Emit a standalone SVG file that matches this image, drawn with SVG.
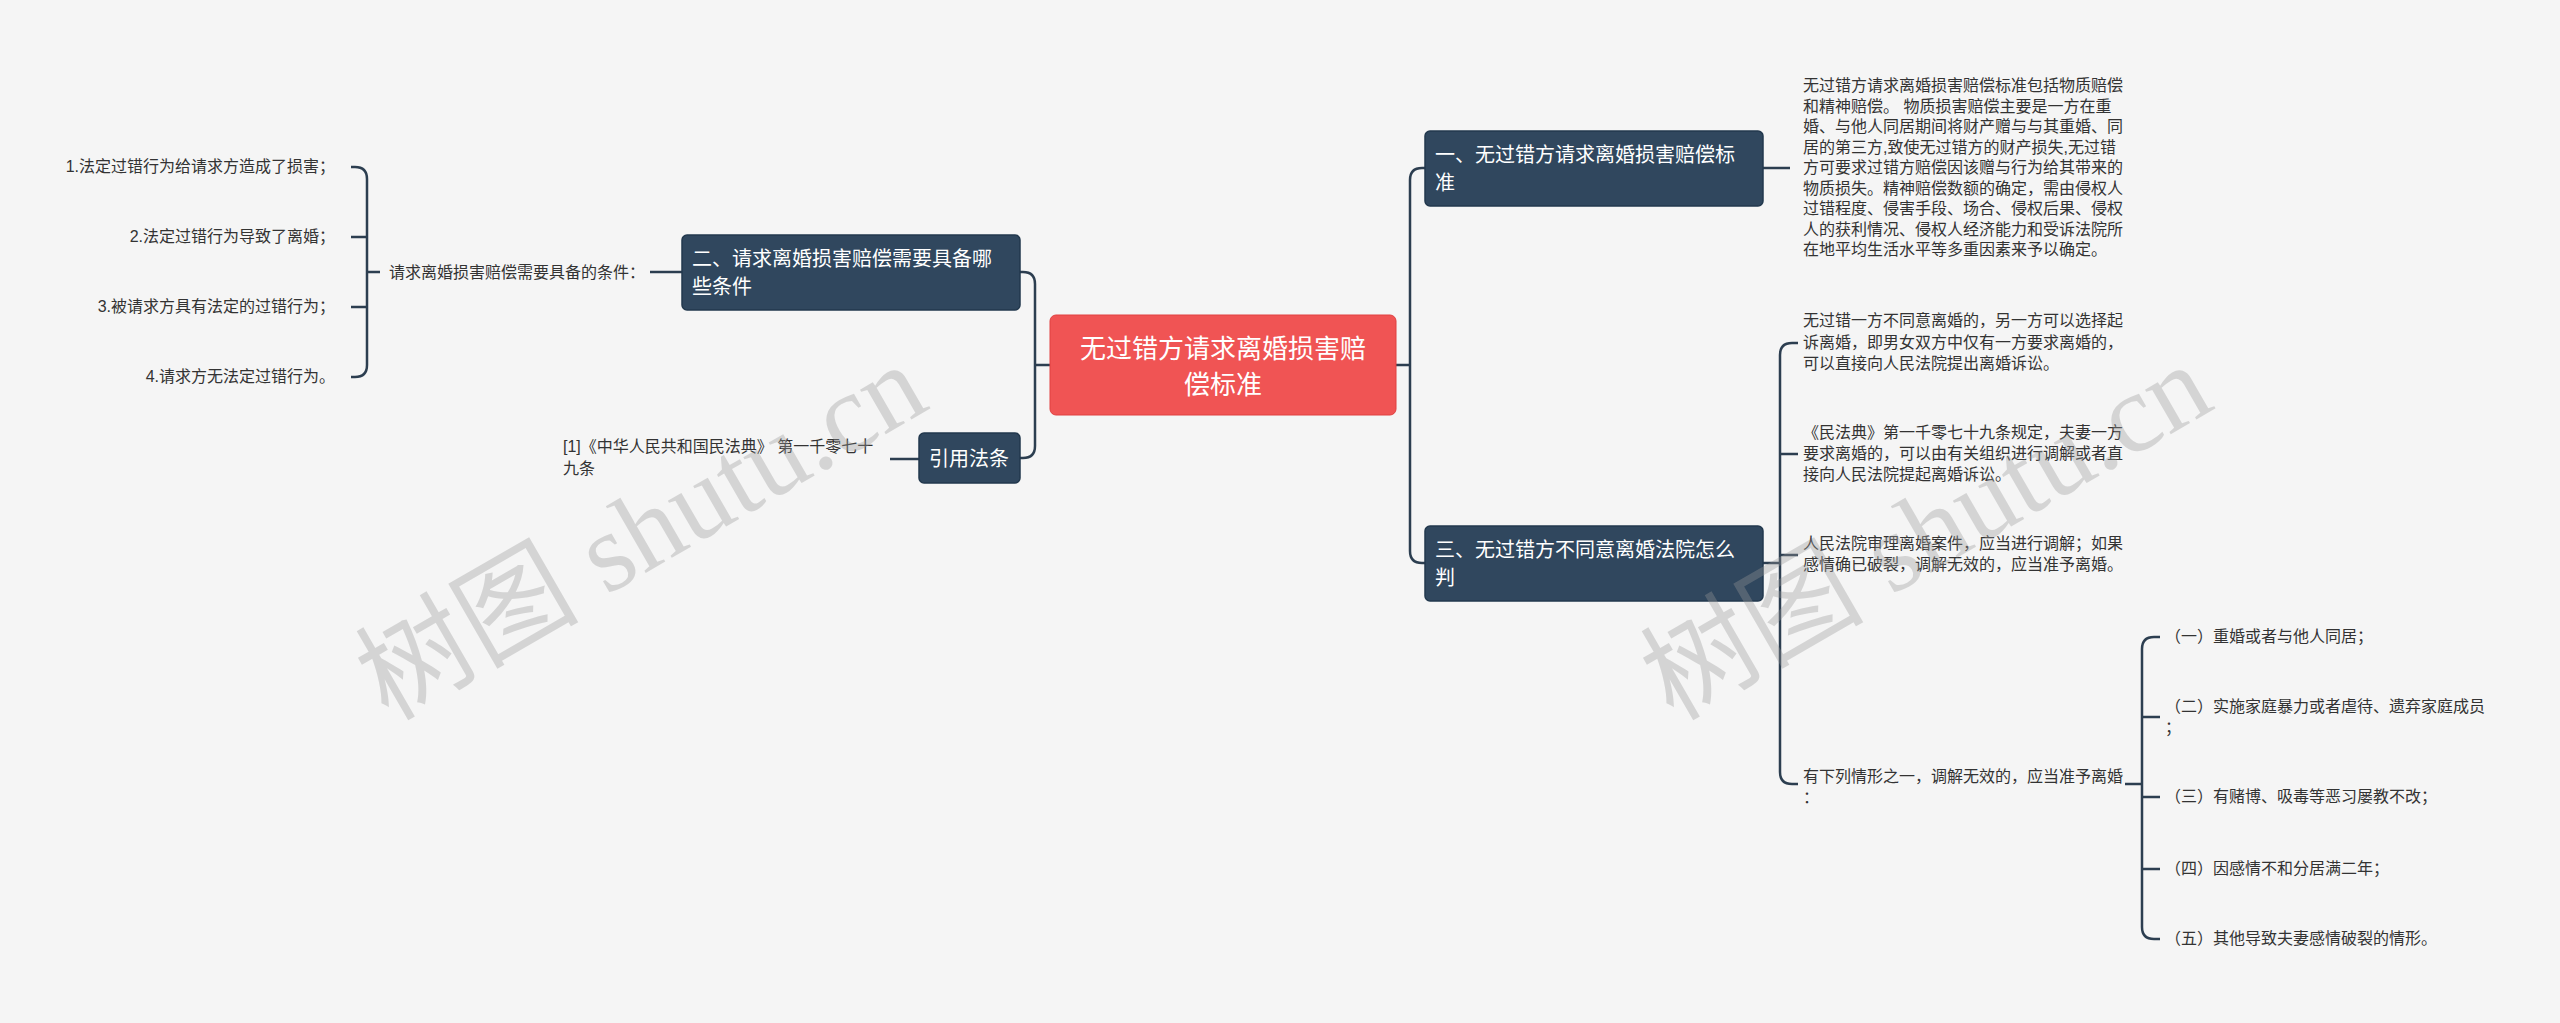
<svg xmlns="http://www.w3.org/2000/svg" width="2560" height="1023" viewBox="0 0 2560 1023">
<style>
text{font-family:"Liberation Sans","Noto Sans CJK SC",sans-serif;}
.t{font-size:16px;fill:#333;}
.n{font-size:20px;fill:#fff;}
.c{fill:none;stroke:#2c3e50;stroke-width:2.5;}
.box{fill:#30475e;stroke:#22384d;stroke-width:1.5;}
.wm{font-size:112px;fill:#999;opacity:0.35;font-family:"Liberation Serif","Noto Sans CJK SC",serif;}
</style>
<rect width="2560" height="1023" fill="#f5f5f5"/>
<g id="connectors">
<path class="c" d="M1396,365 H1410 M1410,365 V180 Q1410,168 1422,168 H1425 M1410,365 V551 Q1410,563 1422,563 H1425"/>
<path class="c" d="M1050,365 H1035 M1035,365 V284 Q1035,272 1023,272 H1020 M1035,365 V446 Q1035,458 1023,458 H1020"/>
<path class="c" d="M682,272 H650"/>
<path class="c" d="M919,459 H890"/>
<path class="c" d="M380,272 H367 M367,272 V179 Q367,167 355,167 H351 M367,272 V365 Q367,377 355,377 H351 M367,237 Q367,237 351,237 M367,307 H351"/>
<path class="c" d="M1763,168 H1790"/>
<path class="c" d="M1763,563 H1780 M1780,563 V355 Q1780,343 1792,343 H1798 M1780,454 H1798 M1780,555 H1798 M1780,563 V772 Q1780,784 1792,784 H1798"/>
<path class="c" d="M2125,784 H2142 M2142,784 V649 Q2142,637 2154,637 H2160 M2142,717 H2160 M2142,797 H2160 M2142,869 H2160 M2142,784 V927 Q2142,939 2154,939 H2160"/>
</g>
<g id="center">
<rect x="1050" y="315" width="346" height="100" rx="6" fill="#f05454" stroke="#e04040"/>
<text x="1223" y="358" font-size="26" fill="#fff" text-anchor="middle">无过错方请求离婚损害赔</text>
<text x="1223" y="394" font-size="26" fill="#fff" text-anchor="middle">偿标准</text>
</g>
<g id="node1">
<rect class="box" x="1425" y="131" width="338" height="75" rx="5"/>
<text class="n" x="1435" y="162">一、无过错方请求离婚损害赔偿标</text>
<text class="n" x="1435" y="190">准</text>
</g>
<g id="node3">
<rect class="box" x="1425" y="526" width="338" height="75" rx="5"/>
<text class="n" x="1435" y="557">三、无过错方不同意离婚法院怎么</text>
<text class="n" x="1435" y="585">判</text>
</g>
<g id="node2">
<rect class="box" x="682" y="235" width="338" height="75" rx="5"/>
<text class="n" x="692" y="266">二、请求离婚损害赔偿需要具备哪</text>
<text class="n" x="692" y="294">些条件</text>
</g>
<g id="cite">
<rect class="box" x="919" y="433" width="101" height="50" rx="5"/>
<text class="n" x="969" y="466" text-anchor="middle">引用法条</text>
</g>
<g id="left-texts">
<text class="t" x="389" y="278">请求离婚损害赔偿需要具备的条件：</text>
<text class="t" x="335" y="172" text-anchor="end">1.法定过错行为给请求方造成了损害；</text>
<text class="t" x="335" y="242" text-anchor="end">2.法定过错行为导致了离婚；</text>
<text class="t" x="335" y="312" text-anchor="end">3.被请求方具有法定的过错行为；</text>
<text class="t" x="335" y="382" text-anchor="end">4.请求方无法定过错行为。</text>
<text class="t" x="563" y="452">[1]《中华人民共和国民法典》 第一千零七十</text>
<text class="t" x="563" y="474">九条</text>
</g>
<g id="desc1">
<text class="t" x="1803" y="91">无过错方请求离婚损害赔偿标准包括物质赔偿</text>
<text class="t" x="1803" y="112">和精神赔偿。 物质损害赔偿主要是一方在重</text>
<text class="t" x="1803" y="132">婚、与他人同居期间将财产赠与与其重婚、同</text>
<text class="t" x="1803" y="153">居的第三方,致使无过错方的财产损失,无过错</text>
<text class="t" x="1803" y="173">方可要求过错方赔偿因该赠与行为给其带来的</text>
<text class="t" x="1803" y="194">物质损失。精神赔偿数额的确定，需由侵权人</text>
<text class="t" x="1803" y="214">过错程度、侵害手段、场合、侵权后果、侵权</text>
<text class="t" x="1803" y="235">人的获利情况、侵权人经济能力和受诉法院所</text>
<text class="t" x="1803" y="255">在地平均生活水平等多重因素来予以确定。</text>
</g>
<g id="desc3">
<text class="t" x="1803" y="326">无过错一方不同意离婚的，另一方可以选择起</text>
<text class="t" x="1803" y="348">诉离婚，即男女双方中仅有一方要求离婚的，</text>
<text class="t" x="1803" y="369">可以直接向人民法院提出离婚诉讼。</text>
<text class="t" x="1803" y="438">《民法典》第一千零七十九条规定，夫妻一方</text>
<text class="t" x="1803" y="459">要求离婚的，可以由有关组织进行调解或者直</text>
<text class="t" x="1803" y="480">接向人民法院提起离婚诉讼。</text>
<text class="t" x="1803" y="549">人民法院审理离婚案件，应当进行调解；如果</text>
<text class="t" x="1803" y="570">感情确已破裂，调解无效的，应当准予离婚。</text>
<text class="t" x="1803" y="782">有下列情形之一，调解无效的，应当准予离婚</text>
<text class="t" x="1803" y="803">：</text>
</g>
<g id="cases">
<text class="t" x="2165" y="642">（一）重婚或者与他人同居；</text>
<text class="t" x="2165" y="712">（二）实施家庭暴力或者虐待、遗弃家庭成员</text>
<text class="t" x="2165" y="733">；</text>
<text class="t" x="2165" y="802">（三）有赌博、吸毒等恶习屡教不改；</text>
<text class="t" x="2165" y="874">（四）因感情不和分居满二年；</text>
<text class="t" x="2165" y="944">（五）其他导致夫妻感情破裂的情形。</text>
</g>
<g id="watermarks">
<text class="wm" x="640" y="570" text-anchor="middle" transform="rotate(-30 640 530)">树图 shutu.cn</text>
<text class="wm" x="1925" y="570" text-anchor="middle" transform="rotate(-30 1925 530)">树图 shutu.cn</text>
</g>
</svg>
